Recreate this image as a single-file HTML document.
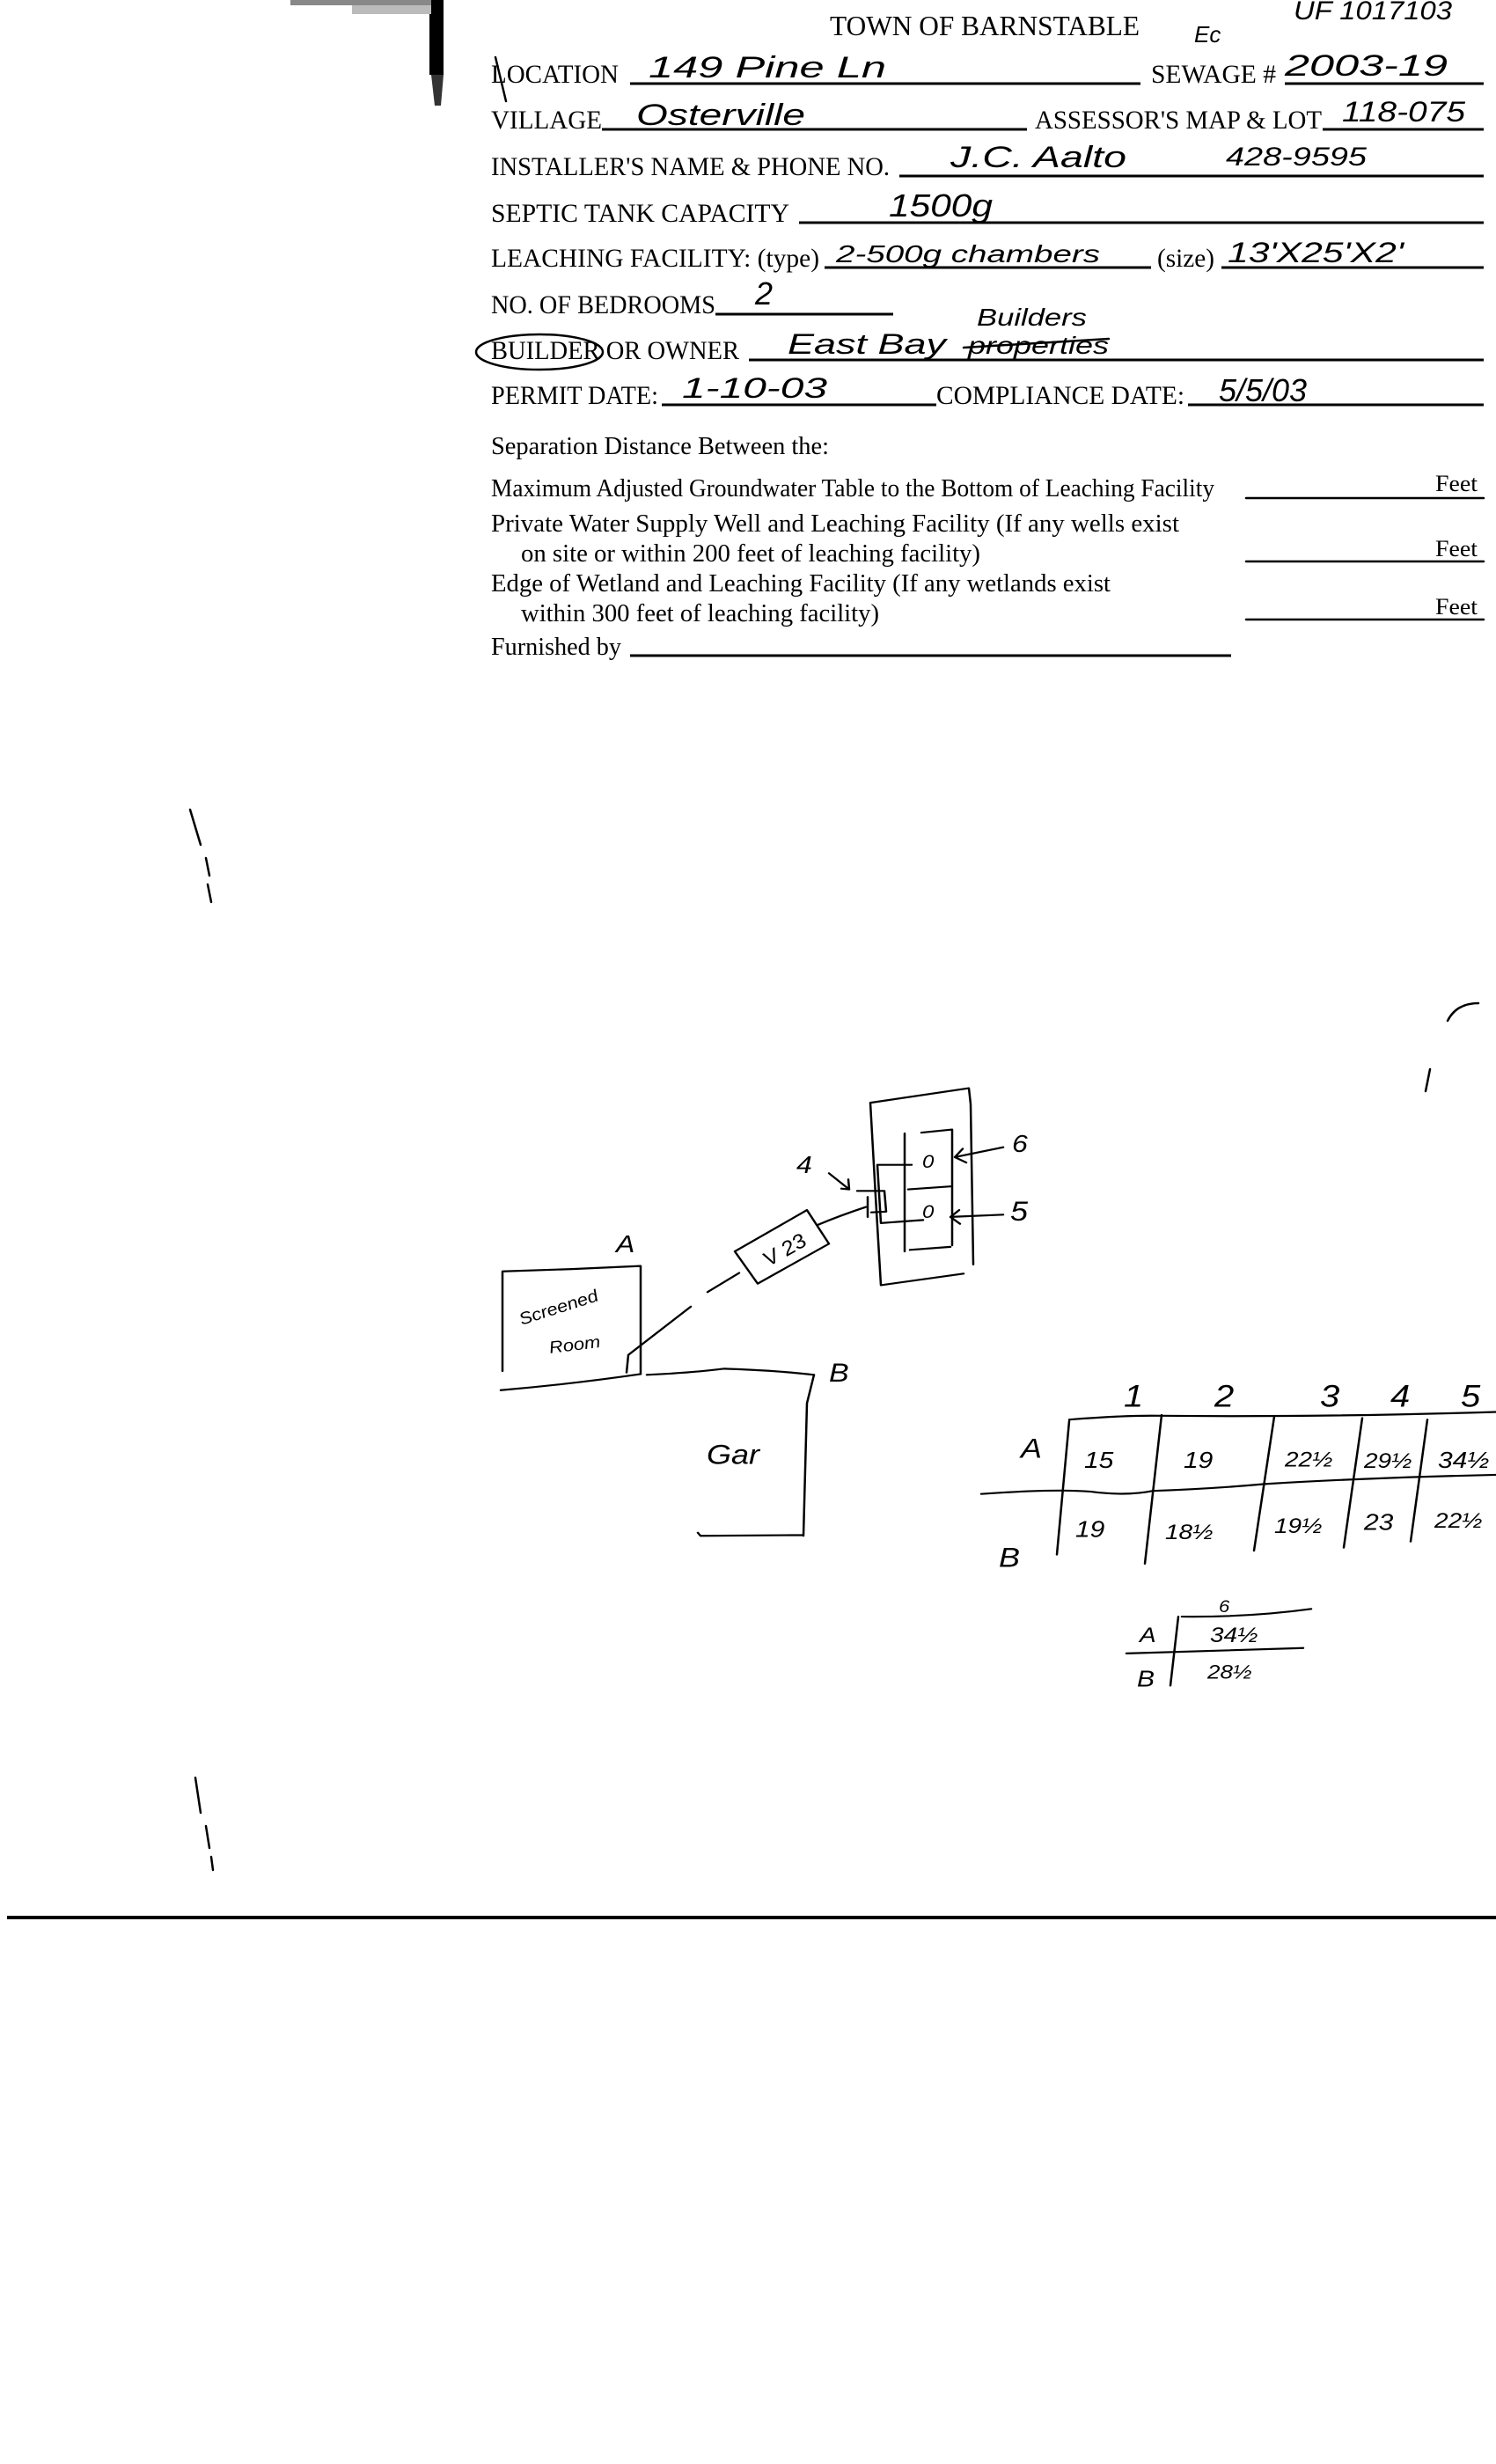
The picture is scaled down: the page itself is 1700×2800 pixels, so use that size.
<!DOCTYPE html>
<html><head><meta charset="utf-8"><style>
html,body{margin:0;padding:0;background:#fff;}
svg{display:block;}
.f{font-family:"Liberation Serif",serif;fill:#000;}
.h{font-family:"Liberation Sans",sans-serif;font-style:italic;fill:#000;}
.l{stroke:#000;stroke-width:3;fill:none;}
.p{stroke:#000;stroke-width:2.5;fill:none;stroke-linecap:round;stroke-linejoin:round;}
</style></head><body>
<svg width="1700" height="2800" viewBox="0 0 1700 2800" xmlns="http://www.w3.org/2000/svg">
<!-- scan artifacts -->
<rect x="488" y="0" width="16" height="85" fill="#000"/>
<polygon points="490,85 504,85 501,120 494,120" fill="#333"/>
<rect x="330" y="0" width="160" height="6" fill="#888"/>
<rect x="400" y="6" width="90" height="10" fill="#bbb"/>
<rect x="8" y="2177" width="1692" height="4" fill="#000"/>
<path class="p" d="M216 920 L228 960 M234 975 L238 995 M236 1005 L240 1025 M222 2020 L228 2060 M234 2075 L238 2100 M240 2110 L242 2125" stroke-width="1.5"/>
<path class="p" d="M1645 1160 Q1655 1140 1680 1140" stroke-width="3"/>
<path class="p" d="M1625 1215 L1620 1240" stroke-width="4"/>

<!-- header -->
<text class="f" x="943" y="40" font-size="32" textLength="352" lengthAdjust="spacingAndGlyphs">TOWN OF BARNSTABLE</text>
<text class="h" x="1470" y="22" font-size="30" textLength="180" lengthAdjust="spacingAndGlyphs" font-style="normal">UF 1017103</text>
<text class="h" x="1357" y="48" font-size="26">Ec</text>

<!-- form rows -->
<text class="f" x="558" y="94" font-size="30" textLength="145" lengthAdjust="spacingAndGlyphs">LOCATION</text>
<line class="p" x1="563" y1="65" x2="575" y2="115"/>
<line class="l" x1="716" y1="95" x2="1296" y2="95"/>
<text class="h" x="737" y="88" font-size="34" textLength="270" lengthAdjust="spacingAndGlyphs">149 Pine Ln</text>
<text class="f" x="1308" y="94" font-size="30" textLength="142" lengthAdjust="spacingAndGlyphs">SEWAGE #</text>
<line class="l" x1="1460" y1="95" x2="1686" y2="95"/>
<text class="h" x="1460" y="86" font-size="34" textLength="185" lengthAdjust="spacingAndGlyphs">2003-19</text>

<text class="f" x="558" y="146" font-size="30" textLength="126" lengthAdjust="spacingAndGlyphs">VILLAGE</text>
<line class="l" x1="684" y1="147" x2="1167" y2="147"/>
<text class="h" x="723" y="142" font-size="34" textLength="192" lengthAdjust="spacingAndGlyphs">Osterville</text>
<text class="f" x="1176" y="146" font-size="30" textLength="326" lengthAdjust="spacingAndGlyphs">ASSESSOR'S MAP &amp; LOT</text>
<line class="l" x1="1503" y1="147" x2="1686" y2="147"/>
<text class="h" x="1525" y="138" font-size="32" textLength="140" lengthAdjust="spacingAndGlyphs">118-075</text>

<text class="f" x="558" y="199" font-size="30" textLength="453" lengthAdjust="spacingAndGlyphs">INSTALLER'S NAME &amp; PHONE NO.</text>
<line class="l" x1="1022" y1="200" x2="1686" y2="200"/>
<text class="h" x="1080" y="190" font-size="34" textLength="200" lengthAdjust="spacingAndGlyphs">J.C. Aalto</text>
<text class="h" x="1393" y="188" font-size="30" textLength="160" lengthAdjust="spacingAndGlyphs">428-9595</text>

<text class="f" x="558" y="252" font-size="30" textLength="339" lengthAdjust="spacingAndGlyphs">SEPTIC TANK CAPACITY</text>
<line class="l" x1="908" y1="253" x2="1686" y2="253"/>
<text class="h" x="1010" y="246" font-size="36" textLength="118" lengthAdjust="spacingAndGlyphs">1500g</text>

<text class="f" x="558" y="303" font-size="30" textLength="373" lengthAdjust="spacingAndGlyphs">LEACHING FACILITY: (type)</text>
<line class="l" x1="937" y1="304" x2="1308" y2="304"/>
<text class="h" x="950" y="298" font-size="28" textLength="300" lengthAdjust="spacingAndGlyphs">2-500g chambers</text>
<text class="f" x="1315" y="303" font-size="30" textLength="65" lengthAdjust="spacingAndGlyphs">(size)</text>
<line class="l" x1="1388" y1="304" x2="1686" y2="304"/>
<text class="h" x="1395" y="298" font-size="32" textLength="200" lengthAdjust="spacingAndGlyphs">13'X25'X2'</text>

<text class="f" x="558" y="356" font-size="30" textLength="255" lengthAdjust="spacingAndGlyphs">NO. OF BEDROOMS</text>
<line class="l" x1="813" y1="357" x2="1015" y2="357"/>
<text class="h" x="858" y="346" font-size="36">2</text>

<text class="f" x="558" y="408" font-size="30" textLength="282" lengthAdjust="spacingAndGlyphs">BUILDER OR OWNER</text>
<ellipse class="p" cx="613" cy="400" rx="72" ry="20"/>
<line class="l" x1="851" y1="409" x2="1686" y2="409"/>
<text class="h" x="895" y="402" font-size="32" textLength="180" lengthAdjust="spacingAndGlyphs">East Bay</text>
<text class="h" x="1100" y="402" font-size="28" textLength="160" lengthAdjust="spacingAndGlyphs">properties</text>
<line class="p" x1="1095" y1="395" x2="1260" y2="385"/>
<text class="h" x="1110" y="370" font-size="28" textLength="125" lengthAdjust="spacingAndGlyphs">Builders</text>

<text class="f" x="558" y="459" font-size="30" textLength="190" lengthAdjust="spacingAndGlyphs">PERMIT DATE:</text>
<line class="l" x1="752" y1="460" x2="1064" y2="460"/>
<text class="h" x="775" y="452" font-size="32" textLength="165" lengthAdjust="spacingAndGlyphs">1-10-03</text>
<text class="f" x="1064" y="459" font-size="30" textLength="282" lengthAdjust="spacingAndGlyphs">COMPLIANCE DATE:</text>
<line class="l" x1="1350" y1="460" x2="1686" y2="460"/>
<text class="h" x="1385" y="456" font-size="36" textLength="100" lengthAdjust="spacingAndGlyphs">5/5/03</text>

<text class="f" x="558" y="516" font-size="28" textLength="384" lengthAdjust="spacingAndGlyphs">Separation Distance Between the:</text>
<text class="f" x="558" y="564" font-size="28" textLength="822" lengthAdjust="spacingAndGlyphs">Maximum Adjusted Groundwater Table to the Bottom of Leaching Facility</text>
<line class="p" x1="1416" y1="566" x2="1686" y2="566"/>
<text class="f" x="1631" y="558" font-size="26" textLength="48" lengthAdjust="spacingAndGlyphs">Feet</text>
<text class="f" x="558" y="604" font-size="28" textLength="782" lengthAdjust="spacingAndGlyphs">Private Water Supply Well and Leaching Facility  (If any wells exist</text>
<text class="f" x="592" y="638" font-size="28" textLength="522" lengthAdjust="spacingAndGlyphs">on site or within 200 feet of leaching facility)</text>
<line class="p" x1="1416" y1="638" x2="1686" y2="638"/>
<text class="f" x="1631" y="632" font-size="26" textLength="48" lengthAdjust="spacingAndGlyphs">Feet</text>
<text class="f" x="558" y="672" font-size="28" textLength="704" lengthAdjust="spacingAndGlyphs">Edge of Wetland and Leaching Facility (If any wetlands exist</text>
<text class="f" x="592" y="706" font-size="28" textLength="407" lengthAdjust="spacingAndGlyphs">within 300 feet of leaching facility)</text>
<line class="p" x1="1416" y1="704" x2="1686" y2="704"/>
<text class="f" x="1631" y="698" font-size="26" textLength="48" lengthAdjust="spacingAndGlyphs">Feet</text>
<text class="f" x="558" y="744" font-size="28" textLength="148" lengthAdjust="spacingAndGlyphs">Furnished by</text>
<line class="l" x1="716" y1="745" x2="1399" y2="745"/>

<!-- sketch -->
<g transform="matrix(1,0,0,0.871,0,157.4)">
<path class="p" d="M571 1608 L571 1478 L650 1475 L728 1471 L728 1612"/>
<text class="h" x="700" y="1453" font-size="32">A</text>
<text class="h" x="593" y="1548" font-size="22" transform="rotate(-20 593 1548)">Screened</text>
<text class="h" x="625" y="1585" font-size="22" transform="rotate(-8 625 1585)">Room</text>
<path class="p" d="M569 1633 Q650 1625 728 1612 M735 1613 Q790 1610 823 1605 Q880 1607 925 1613"/>
<text class="h" x="942" y="1622" font-size="34">B</text>
<path class="p" d="M925 1613 L917 1650 L913 1823 M793 1819 L796 1823 L913 1822"/>
<text class="h" x="803" y="1729" font-size="36">Gar</text>
<path class="p" d="M712 1610 L714 1587 Q750 1555 785 1524" stroke-width="1.8"/>
<path class="p" d="M804 1505 L840 1480"/>
<polygon class="p" points="835,1452 917,1398 942,1442 861,1494"/>
<text class="h" x="862" y="1460" font-size="26" transform="rotate(-33 888 1446)">V 23</text>
<path class="p" d="M930 1417 Q955 1405 984 1394"/>
<path class="p" d="M989 1258 L1101 1239 L1103 1260 L1106 1469 M989 1258 L995 1380 L1001 1496 L1095 1481"/>
<path class="p" d="M1028 1298 L1028 1452 M1047 1297 L1082 1293 L1082 1444 M1034 1450 L1080 1446 M1032 1371 L1082 1367"/>
<path class="p" d="M997 1339 L1036 1339 M997 1339 L1001 1415 L1049 1411"/>
<path class="p" d="M974 1373 L1005 1373 L1007 1400 L990 1401 M986 1381 L986 1407"/>
<text class="h" x="1048" y="1343" font-size="24">0</text>
<text class="h" x="1048" y="1408" font-size="24">0</text>
<text class="h" x="905" y="1350" font-size="32">4</text>
<path class="p" d="M942 1350 L965 1371 M956 1370 L965 1371 L964 1358"/>
<text class="h" x="1150" y="1322" font-size="32">6</text>
<path class="p" d="M1140 1316 L1085 1329 M1094 1318 L1085 1329 L1098 1336"/>
<text class="h" x="1148" y="1412" font-size="36">5</text>
<path class="p" d="M1140 1404 L1080 1407 M1090 1398 L1080 1407 L1091 1416"/>
</g>

<!-- table -->
<g transform="matrix(1,0,0,0.871,0,198.7)">
<text class="h" x="1277" y="1607" font-size="40">1</text>
<text class="h" x="1380" y="1607" font-size="40">2</text>
<text class="h" x="1500" y="1607" font-size="40">3</text>
<text class="h" x="1580" y="1607" font-size="40">4</text>
<text class="h" x="1660" y="1607" font-size="40">5</text>
<path class="p" d="M1215 1624 Q1280 1618 1320 1619 Q1500 1621 1700 1614"/>
<path class="p" d="M1115 1721 Q1200 1714 1240 1718 Q1280 1724 1310 1717 Q1380 1714 1437 1708 Q1550 1700 1700 1696"/>
<path class="p" d="M1215 1626 L1201 1800 M1320 1618 L1301 1812 M1448 1620 L1425 1795 M1548 1622 L1527 1791 M1622 1624 L1603 1783"/>
<text class="h" x="1160" y="1674" font-size="36">A</text>
<text class="h" x="1135" y="1816" font-size="36">B</text>
<text class="h" x="1232" y="1687" font-size="30">15</text>
<text class="h" x="1345" y="1687" font-size="30">19</text>
<text class="h" x="1460" y="1685" font-size="28">22½</text>
<text class="h" x="1550" y="1687" font-size="28">29½</text>
<text class="h" x="1634" y="1687" font-size="30">34½</text>
<text class="h" x="1222" y="1777" font-size="30">19</text>
<text class="h" x="1324" y="1780" font-size="28">18½</text>
<text class="h" x="1448" y="1772" font-size="28">19½</text>
<text class="h" x="1550" y="1768" font-size="30">23</text>
<text class="h" x="1630" y="1765" font-size="28">22½</text>
<g transform="translate(0,52)">
<text class="h" x="1385" y="1823" font-size="22">6</text>
<path class="p" d="M1343 1829 Q1420 1830 1490 1819 M1280 1877 L1481 1870 M1339 1829 L1330 1919"/>
<text class="h" x="1295" y="1862" font-size="28">A</text>
<text class="h" x="1375" y="1862" font-size="28">34½</text>
<text class="h" x="1292" y="1920" font-size="30">B</text>
<text class="h" x="1372" y="1910" font-size="26">28½</text>
</g>
</g>
</svg>
</body></html>
